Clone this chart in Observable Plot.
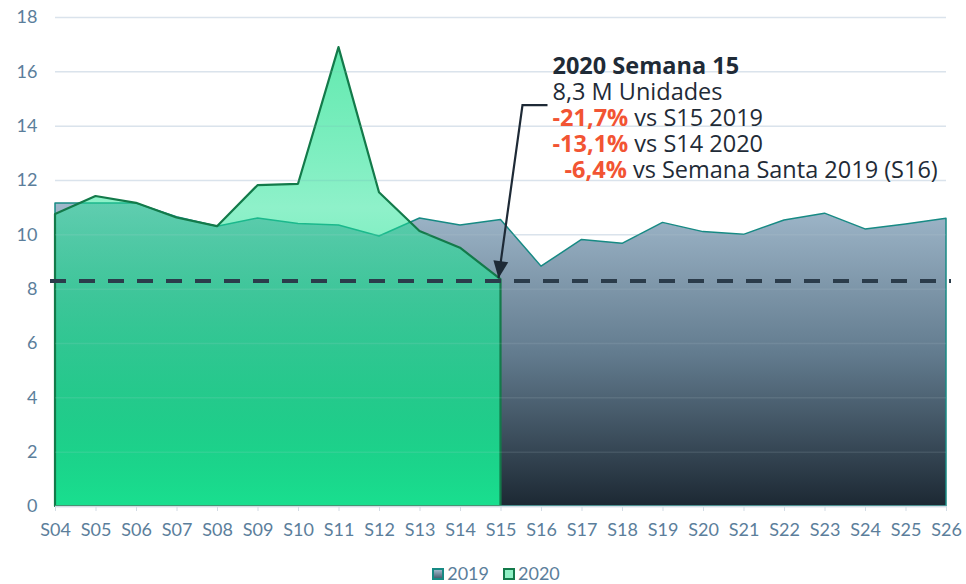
<!DOCTYPE html>
<html><head><meta charset="utf-8">
<script src="https://cdn.jsdelivr.net/npm/d3@7"></script>
<script src="https://cdn.jsdelivr.net/npm/@observablehq/plot@0.6"></script>
<style>
body{margin:0;background:#fff;overflow:hidden;}
#chart svg{display:block;}
.legend{display:flex;justify-content:center;align-items:center;font:18px Lato, sans-serif;color:#5b7e9b;padding-top:3px;line-height:21px;height:21px;margin-left:26px;}
.legend .item{display:flex;align-items:center;margin:0 7px;}
.legend .sw{width:8px;height:8px;border:2px solid;margin-right:3px;}
</style></head><body><div id="chart"></div>
<script>
const weeks = ["S04","S05","S06","S07","S08","S09","S10","S11","S12","S13","S14","S15","S16","S17","S18","S19","S20","S21","S22","S23","S24","S25","S26"];
const sales2019 = [11.15, 11.15, 11.15, 10.65, 10.3, 10.6, 10.4, 10.34, 9.94, 10.6, 10.34, 10.55, 8.83, 9.81, 9.67, 10.44, 10.1, 10.0, 10.53, 10.78, 10.2, 10.38, 10.59];
const weeks2020 = ["S04","S05","S06","S07","S08","S09","S10","S11","S12","S13","S14","S15"];
const sales2020 = [10.75, 11.41, 11.16, 10.62, 10.3, 11.81, 11.86, 16.89, 11.55, 10.12, 9.51, 8.35];
const refValue = 8.3;
const yTicks = [0, 2, 4, 6, 8, 10, 12, 14, 16, 18];
const annotWeek = "S15";
const annotLines = [
  [{t:"2020 Semana 15", bold:true}],
  [{t:"8,3 M Unidades"}],
  [{t:"-21,7%", red:true}, {t:" vs S15 2019"}],
  [{t:"-13,1%", red:true}, {t:" vs S14 2020"}],
  [{t:"-6,4%", red:true}, {t:" vs Semana Santa 2019 (S16)"}]
];

const rows2019 = weeks.map((w, i) => ({i, v: sales2019[i]}));
const rows2020 = weeks2020.map((w, k) => ({i: weeks.indexOf(w), v: sales2020[k]}));

const axisColor = "#5b7e9b";
const chart = Plot.plot({
  width: 966, height: 560,
  marginLeft: 55, marginRight: 20, marginTop: 17, marginBottom: 54,
  style: {fontFamily: "Lato, sans-serif", fontSize: "18px", background: "#fff", overflow: "visible"},
  x: {type: "linear", domain: [0, weeks.length - 1]},
  y: {domain: [0, 18]},
  marks: [
    Plot.gridY(yTicks, {stroke: "#dde5ee", strokeOpacity: 1, strokeWidth: 1.5}),
    Plot.areaY(rows2019, {x: "i", y: "v", fill: "url(#g2019)", stroke: "#178a84", strokeWidth: 1.5}),
    Plot.areaY(rows2020, {x: "i", y: "v", fill: "url(#g2020)", stroke: "#137a4a", strokeWidth: 2.2}),
    Plot.gridY(yTicks, {stroke: "#c9d5e1", strokeOpacity: 0.12, strokeWidth: 1.5}),
    Plot.ruleY([0], {stroke: "#d3dce5", strokeWidth: 1.5}),
    Plot.ruleY([refValue], {stroke: "#2b3c4b", strokeWidth: 4, strokeDasharray: "16 13", insetLeft: -5, insetRight: -5}),
    Plot.axisX(d3.range(weeks.length), {tickFormat: i => weeks[i], tickSize: 5, tickPadding: 12, stroke: "#d3dce5", fill: axisColor, label: null, fontSize: 18}),
    Plot.axisY(yTicks, {tickSize: 0, tickPadding: 18, fill: axisColor, label: null, fontSize: 18})
  ]
});

document.getElementById("chart").appendChild(chart);

const xs = chart.scale("x"), ys = chart.scale("y");
const svg = d3.select(chart);
const defs = svg.insert("defs", ":first-child");
const g19 = defs.append("linearGradient").attr("id", "g2019").attr("x1", 0).attr("y1", 0).attr("x2", 0).attr("y2", 1);
g19.append("stop").attr("offset", 0).attr("stop-color", "#a0b8cb");
g19.append("stop").attr("offset", 0.5).attr("stop-color", "#627b8e");
g19.append("stop").attr("offset", 1).attr("stop-color", "#1c2833");
const g20 = defs.append("linearGradient").attr("id", "g2020").attr("gradientUnits", "userSpaceOnUse")
  .attr("x1", 0).attr("x2", 0).attr("y1", ys.apply(d3.max(sales2020))).attr("y2", ys.apply(0));
[[0, "#3ee49c", 0.8], [0.35, "#1ee394", 0.5], [1, "#19df8f", 1]].forEach(([o, c, a]) =>
  g20.append("stop").attr("offset", o).attr("stop-color", c).attr("stop-opacity", a));

// annotation anchored at the data point
const ai = weeks.indexOf(annotWeek);
const ax = xs.apply(ai), ay = ys.apply(sales2020[weeks2020.indexOf(annotWeek)]);
const ann = svg.append("g").attr("text-anchor", "start");
const sx = ax + 22, sy = ay - 174, tx = ax - 2, ty = ay - 1;
ann.append("path").attr("d", `M${ax + 47},${sy}H${sx}L${tx},${ty}`).attr("fill", "none").attr("stroke", "#1e2a36").attr("stroke-width", 2.2);
const dx = tx - sx, dy = ty - sy, len = Math.hypot(dx, dy), ux = dx / len, uy = dy / len;
const hl = 17, hw = 7.5;
const bx = tx - ux * hl, by = ty - uy * hl;
ann.append("path").attr("d", `M${tx},${ty}L${bx - uy * hw},${by + ux * hw}L${bx + uy * hw},${by - ux * hw}Z`).attr("fill", "#1e2a36");
const textX = ax + 52;
annotLines.forEach((parts, k) => {
  const t = ann.append("text").attr("x", textX + (k === 4 ? 12 : 0)).attr("y", ay - 205 + 26 * k)
    .attr("text-anchor", "start")
    .attr("font-family", "'Open Sans', sans-serif").attr("font-size", 23.5).attr("fill", "#1f2b37");
  parts.forEach(p => {
    t.append("tspan").text(p.t)
      .attr("font-weight", p.bold || p.red ? "bold" : null)
      .attr("fill", p.red ? "#f25433" : null);
  });
});

// legend below the SVG
const legend = d3.select("body").append("div").attr("class", "legend");
[["2019", "#178a84", "linear-gradient(#a0b8cb,#4a6072)"], ["2020", "#137a4a", "#8ff0c4"]].forEach(([lab, bc, bg]) => {
  const it = legend.append("div").attr("class", "item");
  it.append("div").attr("class", "sw").style("border-color", bc).style("background", bg);
  it.append("span").text(lab);
});
</script></body></html>
